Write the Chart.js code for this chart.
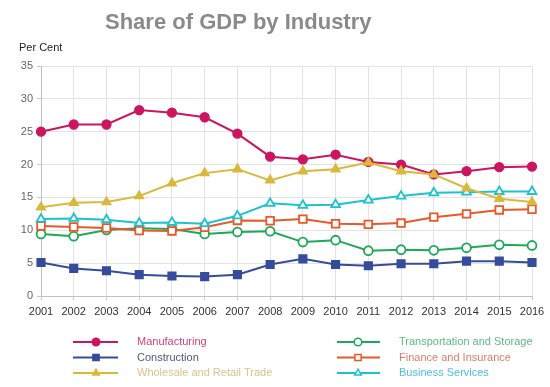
<!DOCTYPE html>
<html>
<head>
<meta charset="utf-8">
<script src="https://cdn.jsdelivr.net/npm/chart.js@4.4.1/dist/chart.umd.min.js"></script>
<style>
  html, body { margin: 0; padding: 0; background: #fff; }
  #wrap { position: relative; width: 550px; height: 387px; }
  canvas { display: block; }
</style>
</head>
<body>
<div id="wrap"><canvas id="c" width="550" height="387"></canvas></div>
<script>
const titleText = 'Share of GDP by Industry';
const yAxisTitle = 'Per Cent';
const years = ['2001','2002','2003','2004','2005','2006','2007','2008','2009','2010','2011','2012','2013','2014','2015','2016'];
const seriesNames = ['Manufacturing','Construction','Wholesale and Retail Trade','Transportation and Storage','Finance and Insurance','Business Services'];
const manufacturing = [25.0,26.1,26.1,28.3,27.9,27.2,24.7,21.2,20.8,21.5,20.4,20.0,18.5,19.0,19.6,19.7];
const construction  = [5.1,4.2,3.85,3.25,3.05,2.95,3.25,4.8,5.65,4.8,4.6,4.9,4.9,5.3,5.3,5.1];
const wholesale     = [13.5,14.2,14.3,15.2,17.15,18.7,19.3,17.6,19.0,19.3,20.3,19.0,18.5,16.4,14.8,14.3];
const transport     = [9.45,9.1,10.05,10.3,10.2,9.45,9.75,9.85,8.2,8.5,6.9,7.05,6.95,7.35,7.8,7.7];
const finance       = [10.65,10.5,10.35,9.95,9.9,10.45,11.5,11.45,11.7,11.0,10.9,11.1,12.0,12.5,13.1,13.2];
const business      = [11.7,11.8,11.6,11.1,11.2,11.0,12.2,14.1,13.8,13.9,14.6,15.2,15.7,15.8,15.9,15.9];
const yTicks = [0,5,10,15,20,25,30,35];

const lineColors = ['#cc1560','#344c9a','#dab83c','#1ea85a','#e8582a','#1cc3cc'];
const textColors = ['#d0407a','#505a78','#dcc48a','#5cba82','#e07c6c','#4cbfdf'];
const styles = ['circle','rect','triangle','circle','rect','triangle'];
const filled = [true,true,true,false,false,false];
const values = [manufacturing, construction, wholesale, transport, finance, business];
const drawOrder = [2,6,1,5,4,3];

const datasets = seriesNames.map((name, i) => ({
  label: name,
  data: values[i],
  borderColor: lineColors[i],
  backgroundColor: lineColors[i],
  pointBackgroundColor: filled[i] ? lineColors[i] : '#ffffff',
  pointBorderColor: lineColors[i],
  pointStyle: styles[i],
  pointRadius: styles[i] === 'rect' ? 5.4 : (styles[i] === 'triangle' ? 5 : 4.4),
  pointBorderWidth: filled[i] ? 1.5 : 1.8,
  borderWidth: 2,
  tension: 0,
  fill: false,
  order: drawOrder[i]
}));

const customDecor = {
  id: 'customDecor',
  afterDraw(chart) {
    const ctx = chart.ctx;
    ctx.save();
    ctx.font = 'bold 22px "Liberation Sans", Arial, sans-serif';
    ctx.fillStyle = '#8a8a8a';
    ctx.textAlign = 'left';
    ctx.textBaseline = 'alphabetic';
    ctx.fillText(titleText, 105, 29);
    ctx.font = '11px "Liberation Sans", Arial, sans-serif';
    ctx.fillStyle = '#222';
    ctx.textBaseline = 'middle';
    ctx.fillText(yAxisTitle, 19, 48);
    const cols = [{lx: 73, rx: 118, mx: 96, tx: 137}, {lx: 337, rx: 380, mx: 358, tx: 399}];
    const rows = [342, 357.5, 373];
    chart.data.datasets.forEach((ds, i) => {
      const c = cols[Math.floor(i / 3)];
      const y = rows[i % 3];
      ctx.strokeStyle = ds.borderColor;
      ctx.lineWidth = 2;
      ctx.beginPath();
      ctx.moveTo(c.lx, y);
      ctx.lineTo(c.rx, y);
      ctx.stroke();
      ctx.fillStyle = ds.pointBackgroundColor;
      ctx.strokeStyle = ds.pointBorderColor;
      ctx.lineWidth = 1.5;
      Chart.helpers.drawPoint(ctx, {pointStyle: ds.pointStyle, rotation: 0, radius: ds.pointStyle === 'rect' ? 4.4 : 3.8, borderWidth: 1.5}, c.mx, y);
      ctx.font = '11px "Liberation Sans", Arial, sans-serif';
      ctx.fillStyle = textColors[i];
      ctx.textAlign = 'left';
      ctx.textBaseline = 'middle';
      ctx.fillText(ds.label, c.tx, y);
    });
    ctx.restore();
  }
};

new Chart(document.getElementById('c'), {
  type: 'line',
  data: { labels: years, datasets },
  options: {
    responsive: false,
    animation: false,
    devicePixelRatio: 1,
    layout: { padding: { left: 0, right: 18, top: 66, bottom: 0 } },
    plugins: {
      legend: { display: false },
      title: { display: false },
      tooltip: { enabled: false }
    },
    scales: {
      x: {
        type: 'category',
        offset: false,
        grid: { color: '#e4e4e4', tickLength: 4, drawTicks: true, tickColor: '#c8c8c8' },
        border: { color: '#c0c0c0', width: 1 },
        ticks: { color: '#333', font: { size: 11, family: '"Liberation Sans", Arial, sans-serif' }, padding: 5, maxRotation: 0, autoSkip: false },
        afterFit(scale) { scale.height = 91; }
      },
      y: {
        min: 0, max: 35,
        afterBuildTicks(scale) { scale.ticks = yTicks.map(v => ({ value: v })); },
        grid: { color: '#e4e4e4', tickLength: 4, tickColor: '#c8c8c8' },
        border: { color: '#c0c0c0', width: 1 },
        ticks: { color: '#666', font: { size: 11, family: '"Liberation Sans", Arial, sans-serif' }, padding: 4 },
        afterFit(scale) { scale.width = 41; }
      }
    }
  },
  plugins: [customDecor]
});
</script>
</body>
</html>
